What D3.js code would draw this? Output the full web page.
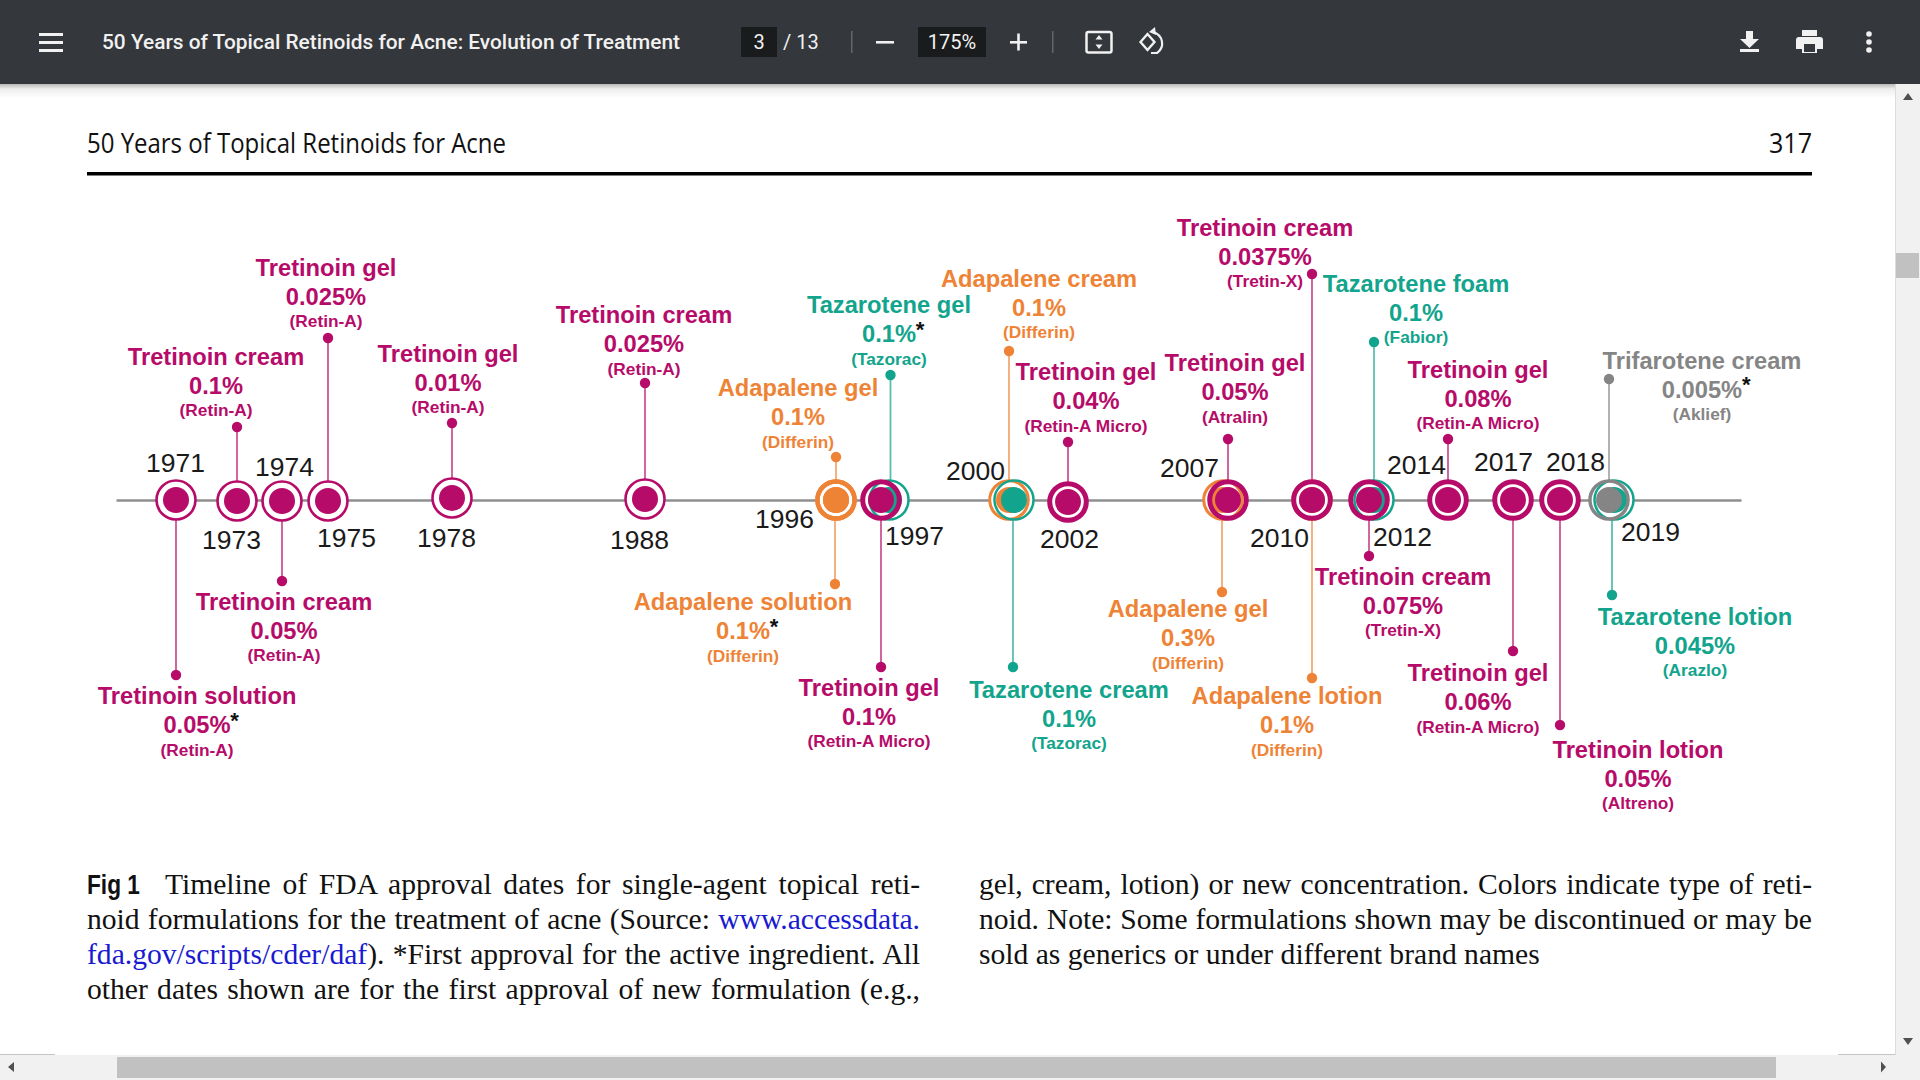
<!DOCTYPE html>
<html>
<head>
<meta charset="utf-8">
<title>50 Years of Topical Retinoids for Acne</title>
<script src="https://d3js.org/d3.v7.min.js"></script>
<style>
    html, body { margin: 0; padding: 0; width: 1920px; height: 1080px; overflow: hidden; background: #fff; }
    svg { position: absolute; left: 0; top: 0; }
    .capLine {
        position: absolute;
        width: 833px;
        height: 35px;
        line-height: 35px;
        font-family: "Liberation Serif", serif;
        font-size: 29.6px;
        color: #111;
        white-space: nowrap;
        text-align: justify;
        text-align-last: justify;
    }
    .capLine.last { text-align-last: left; }
    .capLine b {
        display: inline-block;
        font-family: "Liberation Sans", sans-serif;
        font-size: 27px;
        transform: scaleX(0.84);
        transform-origin: left center;
        margin-right: -8px;
    }
    .capLine a { color: #1a1ad0; text-decoration: none; }
</style>
</head>
<body>
<div id="page"></div>
<script>
// Timeline stops
var axisYears = [1969, 1971, 1973, 1974, 1975, 1978, 1988, 1996, 1997, 2000, 2002, 2007, 2010, 2012, 2014, 2017, 2018, 2019, 2022];
var tickYears = axisYears.slice(1, -1);

// One entry per approval, drawn back to front
var approvalYears = [1971, 1973, 1974, 1975, 1978, 1988, 1996, 1996, 1997, 1997, 2000, 2000, 2002, 2007, 2007, 2010, 2010, 2012, 2012, 2014, 2017, 2018, 2019, 2019];
var drugs = ["Tretinoin", "Tretinoin", "Tretinoin", "Tretinoin", "Tretinoin", "Tretinoin", "Adapalene", "Adapalene", "Tazarotene", "Tretinoin", "Adapalene", "Tazarotene", "Tretinoin", "Adapalene", "Tretinoin", "Adapalene", "Tretinoin", "Tazarotene", "Tretinoin", "Tretinoin", "Tretinoin", "Tretinoin", "Tazarotene", "Trifarotene"];
var forms = ["solution", "cream", "cream", "gel", "gel", "cream", "gel", "solution", "gel", "gel", "cream", "cream", "gel", "gel", "gel", "lotion", "cream", "foam", "cream", "gel", "gel", "lotion", "lotion", "cream"];
var strengths = ["0.05%", "0.1%", "0.05%", "0.025%", "0.01%", "0.025%", "0.1%", "0.1%", "0.1%", "0.1%", "0.1%", "0.1%", "0.04%", "0.3%", "0.05%", "0.1%", "0.0375%", "0.1%", "0.075%", "0.08%", "0.06%", "0.05%", "0.045%", "0.005%"];
var brands = ["Retin-A", "Retin-A", "Retin-A", "Retin-A", "Retin-A", "Retin-A", "Differin", "Differin", "Tazorac", "Retin-A Micro", "Differin", "Tazorac", "Retin-A Micro", "Differin", "Atralin", "Differin", "Tretin-X", "Fabior", "Tretin-X", "Retin-A Micro", "Retin-A Micro", "Altreno", "Arazlo", "Aklief"];
var firstApproval = [true, false, false, false, false, false, false, true, true, false, false, false, false, false, false, false, false, false, false, false, false, false, false, true];

var drugNames = ["Tretinoin", "Adapalene", "Tazarotene", "Trifarotene"];

// Layout of the picture
var width = 1920;
var height = 1080;
var axisY = 500;
var axisRange = [116, 176, 237, 282, 328, 452, 645, 836, 881, 1009, 1068, 1228, 1312, 1369, 1448, 1513, 1560, 1609, 1741];
var markerShift = [0, 0, 0, 0, 0, 0, 0, 0, 8, 0, 0, 5, 0, -5, 0, 0, 0, 5, 0, 0, 0, 0, 5, 0];
var markerLift = [0, -1, -1, -1, 2, 1, 0, 0, 0, 0, 0, 0, -2, 0, 0, 0, 0, 0, 0, 0, 0, 0, 0, 0];
var stemShift = [0, 0, 0, 0, 0, 0, 0, -1, 1.5, 0, 0, -1, 0, -1, 0, 0, 0, 0, 0, 0, 0, 0, -2, 0];
var ringWidths = [2.6, 2.6, 2.6, 2.6, 2.6, 2.6, 4.5, 4.5, 2.5, 5, 3, 2.5, 5, 3, 5, 3, 5, 2.5, 5, 5, 5, 5, 2.5, 3.5];
var stemReach = [-175, 73, -81, 162, 77, 117, 43, -84, 125, -167, 149, -167, 58, -92, 61, -178, 226, 158, -56, 61, -151, -225, -95, 121];
var labelDx = [21, -21, 2, -2, -4, -1, -38, -93, 0, -12, 30, 55, 18, -35, 7, -25, -47, 42, 34, 30, -35, 78, 81, 93];
var labelY = [696.7, 357.3, 602.3, 268.3, 354.3, 315.7, 388.7, 602.5, 305.7, 688, 279, 690.4, 372.7, 609.8, 363.7, 696.7, 228.3, 284, 577, 370, 673.5, 750.4, 617, 361.3];
var tickDx = [-1, -6, 2, 18, -6, -6, -52, 33, -34, 1, -39, -33, 33, -32, -10, 15, 41];
var tickDy = [-37, 40, -33, 38, 38, 40, 19, 36, -29, 39, -32, 38, 37, -35, -38, -38, 32];

var color = d3.scaleOrdinal()
    .domain(drugNames)
    .range(["#b60b69", "#ee8336", "#12a48c", "#858585"]);

// Years are not evenly spaced on the original timeline
var xScale = d3.scaleLinear().domain(axisYears).range(axisRange);
var yScale = d3.scaleLinear().domain([0, 100]).range([axisY, axisY - 100]);

var svg = d3.select("#page").append("svg")
    .attr("width", width)
    .attr("height", height);

var defs = svg.append("defs");
var shadow = defs.append("linearGradient").attr("id", "barShadow")
    .attr("x1", 0).attr("x2", 0).attr("y1", 0).attr("y2", 1);
shadow.append("stop").attr("offset", 0).attr("stop-color", "#000").attr("stop-opacity", 0.28);
shadow.append("stop").attr("offset", 0.35).attr("stop-color", "#000").attr("stop-opacity", 0.07);
shadow.append("stop").attr("offset", 1).attr("stop-color", "#000").attr("stop-opacity", 0);

// Running head of the article
var head = svg.append("g").attr("font-family", "'Open Sans', sans-serif").attr("fill", "#111");
head.append("text").attr("x", 87).attr("y", 153).attr("font-size", 28)
    .attr("textLength", 419).attr("lengthAdjust", "spacingAndGlyphs")
    .text("50 Years of Topical Retinoids for Acne");
head.append("text").attr("x", 1769).attr("y", 153).attr("font-size", 28)
    .attr("textLength", 43).attr("lengthAdjust", "spacingAndGlyphs")
    .text("317");
svg.append("rect").attr("x", 87).attr("y", 172).attr("width", 1725).attr("height", 3.5).attr("fill", "#000");

// Timeline axis
var chartGroup = svg.append("g");

var axisGroup = chartGroup.append("g")
    .attr("transform", `translate(0, ${axisY})`)
    .call(d3.axisBottom(xScale).tickValues(tickYears).tickSize(0).tickFormat(d3.format("d")));

axisGroup.select(".domain").attr("stroke", "#8f8f8f").attr("stroke-width", 2.5);

axisGroup.selectAll(".tick text")
    .attr("y", 0)
    .attr("dy", "0.35em")
    .attr("transform", (d, i) => `translate(${tickDx[i]}, ${tickDy[i]})`)
    .attr("font-family", "'Liberation Sans', Arial, sans-serif")
    .attr("font-size", 26.5)
    .attr("fill", "#1a1a1a");

var approvals = d3.range(approvalYears.length);

function markerX(i) {
    return xScale(approvalYears[i]) + markerShift[i];
}

function markerY(i) {
    return yScale(markerLift[i]);
}

// Stems and their end dots
chartGroup.append("g").selectAll("line")
    .data(approvals)
    .enter()
    .append("line")
    .attr("x1", i => markerX(i) + stemShift[i])
    .attr("x2", i => markerX(i) + stemShift[i])
    .attr("y1", axisY)
    .attr("y2", i => yScale(stemReach[i]))
    .attr("stroke", i => color(drugs[i]))
    .attr("stroke-opacity", 0.7)
    .attr("stroke-width", 1.8);

chartGroup.append("g").selectAll("circle")
    .data(approvals)
    .enter()
    .append("circle")
    .attr("cx", i => markerX(i) + stemShift[i])
    .attr("cy", i => yScale(stemReach[i]))
    .attr("r", 5.2)
    .attr("fill", i => color(drugs[i]));

// White discs go first so overlapping rings show through each other
chartGroup.append("g").selectAll("circle")
    .data(approvals)
    .enter()
    .append("circle")
    .attr("cx", i => markerX(i))
    .attr("cy", i => markerY(i))
    .attr("r", 20)
    .attr("fill", "#fff");

var markers = chartGroup.append("g").selectAll("g")
    .data(approvals)
    .enter()
    .append("g")
    .attr("transform", i => `translate(${markerX(i)}, ${markerY(i)})`);

markers.append("circle")
    .attr("r", i => 20.8 - ringWidths[i] / 2)
    .attr("fill", "none")
    .attr("stroke", i => color(drugs[i]))
    .attr("stroke-width", i => ringWidths[i]);

markers.append("circle")
    .attr("r", 13)
    .attr("fill", i => color(drugs[i]));

// Labels
var labels = chartGroup.append("g")
    .attr("font-family", "'Liberation Sans', Arial, sans-serif")
    .attr("font-weight", "bold")
    .attr("text-anchor", "middle")
    .selectAll("g")
    .data(approvals)
    .enter()
    .append("g")
    .attr("transform", i => `translate(${xScale(approvalYears[i]) + markerShift[i] + labelDx[i]}, ${labelY[i]})`)
    .attr("fill", i => color(drugs[i]));

labels.append("text")
    .attr("y", -0.7)
    .attr("dy", "0.35em")
    .attr("font-size", 23.7)
    .text(i => `${drugs[i]} ${forms[i]}`);

var strengthText = labels.append("text")
    .attr("y", 28.3)
    .attr("dy", "0.35em")
    .attr("font-size", 23.7)
    .text(i => strengths[i]);

labels.append("text")
    .attr("y", 53)
    .attr("dy", "0.35em")
    .attr("font-size", 17.3)
    .text(i => `(${brands[i]})`);

// Asterisk for first approval of the ingredient
strengthText.each(function (i) {
    if (!firstApproval[i]) return;
    var halfWidth = this.getComputedTextLength() / 2;
    d3.select(this.parentNode).append("text")
        .attr("x", halfWidth + 4)
        .attr("y", 31)
        .attr("font-size", 22)
        .attr("fill", "#111")
        .text("*");
});

// Viewer toolbar
var bar = svg.append("g");
bar.append("rect").attr("x", 0).attr("y", 84).attr("width", 1895).attr("height", 14).attr("fill", "url(#barShadow)");
bar.append("rect").attr("width", width).attr("height", 84).attr("fill", "#34373b");

bar.selectAll(".burger")
    .data([33, 41, 49])
    .enter()
    .append("rect")
    .attr("x", 39).attr("y", d => d).attr("width", 24).attr("height", 3).attr("fill", "#f1f1f1");

bar.append("rect").attr("x", 741).attr("y", 27).attr("width", 36).attr("height", 30).attr("fill", "#191b1c");
bar.append("rect").attr("x", 918).attr("y", 27).attr("width", 68).attr("height", 30).attr("fill", "#191b1c");

var barText = bar.append("g").attr("font-family", "Roboto, sans-serif").attr("fill", "#f1f1f1").attr("font-size", 20);
barText.append("text").attr("x", 102).attr("y", 49).attr("font-weight", 500)
    .attr("textLength", 578).attr("lengthAdjust", "spacingAndGlyphs")
    .text("50 Years of Topical Retinoids for Acne: Evolution of Treatment");
barText.append("text").attr("x", 759).attr("y", 49).attr("text-anchor", "middle").text("3");
barText.append("text").attr("x", 783).attr("y", 49).text("/ 13");
barText.append("text").attr("x", 952).attr("y", 49).attr("text-anchor", "middle").text("175%");

bar.selectAll(".sep")
    .data([851, 1052])
    .enter()
    .append("rect")
    .attr("x", d => d).attr("y", 31).attr("width", 1.5).attr("height", 22).attr("fill", "#63666a");

// Toolbar icons
var iconPaths = [
    "M876 41h18v2.6h-18z",
    "M1010 41h17v2.6h-17z",
    "M1017.2 33.5h2.6v17h-2.6z",
    "M1740 49h19v3h-19zM1746 31h7v8h6l-9.5 9-9.5-9h6z",
    "M1802 30h15v6h-15zM1799 37h21a3 3 0 0 1 3 3v9h-6v4h-15v-4h-6v-9a3 3 0 0 1 3-3z"
];
bar.selectAll(".icon")
    .data(iconPaths)
    .enter()
    .append("path")
    .attr("d", d => d)
    .attr("fill", "#f1f1f1");

bar.append("rect").attr("x", 1804).attr("y", 44).attr("width", 11).attr("height", 8).attr("fill", "#34373b");
bar.append("rect").attr("x", 1086.5).attr("y", 32).attr("width", 25).attr("height", 20.5).attr("rx", 2)
    .attr("fill", "none").attr("stroke", "#f1f1f1").attr("stroke-width", 2.5);
bar.append("path").attr("d", "M1099 35l3.5 4.5h-7zM1099 49l3.5-4.5h-7z").attr("fill", "#f1f1f1");
bar.append("path").attr("d", "M1140.5 42l7-8 7 8-7 8z")
    .attr("fill", "none").attr("stroke", "#f1f1f1").attr("stroke-width", 2.4);
bar.append("path").attr("d", "M1153 32a13 12 0 0 1 4 21h-6")
    .attr("fill", "none").attr("stroke", "#f1f1f1").attr("stroke-width", 2.2);
bar.append("path").attr("d", "M1155 27l-6 5 7 3z").attr("fill", "#f1f1f1");

bar.selectAll(".dots")
    .data([34, 42, 50])
    .enter()
    .append("circle")
    .attr("cx", 1869).attr("cy", d => d).attr("r", 2.8).attr("fill", "#f1f1f1");

// Scrollbars
var scroll = svg.append("g");
scroll.append("rect").attr("x", 1895).attr("y", 84).attr("width", 25).attr("height", 996).attr("fill", "#f1f1f1");
scroll.append("rect").attr("x", 1895).attr("y", 84).attr("width", 1).attr("height", 971).attr("fill", "#dcdcdc");
scroll.append("rect").attr("x", 1896).attr("y", 253).attr("width", 23).attr("height", 25).attr("fill", "#c1c1c1");
scroll.append("rect").attr("x", 0).attr("y", 1055).attr("width", 1920).attr("height", 25).attr("fill", "#f1f1f1");
scroll.append("rect").attr("x", 117).attr("y", 1057).attr("width", 1659).attr("height", 21).attr("fill", "#c1c1c1");
scroll.append("rect").attr("x", 0).attr("y", 1054).attr("width", 55).attr("height", 1).attr("fill", "#c4c4c4");
scroll.append("rect").attr("x", 1838).attr("y", 1054).attr("width", 57).attr("height", 1).attr("fill", "#c4c4c4");
scroll.append("path")
    .attr("d", "M1908 93l5 7h-10zM1908 1045l5-7h-10zM8 1067l6-5v10zM1886 1067l-5-5.5v11z")
    .attr("fill", "#505050");

// Caption as justified lines
var captionLines = [
    { x: 87, html: "<b>Fig 1</b>&nbsp; Timeline of FDA approval dates for single-agent topical reti-" },
    { x: 87, html: "noid formulations for the treatment of acne (Source: <a>www.accessdata.</a>" },
    { x: 87, html: "<a>fda.gov/scripts/cder/daf</a>). *First approval for the active ingredient. All" },
    { x: 87, html: "other dates shown are for the first approval of new formulation (e.g.," },
    { x: 979, html: "gel, cream, lotion) or new concentration. Colors indicate type of reti-" },
    { x: 979, html: "noid. Note: Some formulations shown may be discontinued or may be" },
    { x: 979, html: "sold as generics or under different brand names", last: true }
];
var captionTop = [867, 902, 937, 972, 867, 902, 937];

d3.select("#page").selectAll(".capLine")
    .data(captionLines)
    .enter()
    .append("div")
    .attr("class", d => d.last ? "capLine last" : "capLine")
    .style("left", d => d.x + "px")
    .style("top", (d, i) => captionTop[i] + "px")
    .html(d => d.html);
</script>
</body>
</html>
